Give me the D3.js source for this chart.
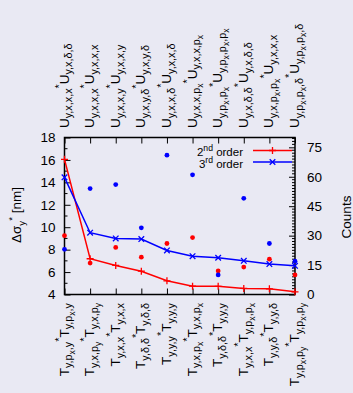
<!DOCTYPE html>
<html>
<head>
<meta charset="utf-8">
<script src="https://cdn.jsdelivr.net/npm/d3@7"></script>
<style>
  html, body { margin: 0; padding: 0; background: #e9e9f3; }
  svg { display: block; font-family: "Liberation Sans", Arial, sans-serif; }
</style>
</head>
<body>
<div id="chart"></div>
<script>
// categories (gnuplot style markup: _ sub, ^ sup)
const topLabels = [
  "U_{y,x,x,x}^*U_{y,x,δ,δ}",
  "U_{y,x,x,x}^*U_{y,x,x,x}",
  "U_{y,x,x,y}^*U_{y,x,x,y}",
  "U_{y,x,y,δ}^*U_{y,x,y,δ}",
  "U_{y,x,x,δ}^*U_{y,x,x,δ}",
  "U_{y,x,x,p_x}^*U_{y,x,x,p_x}",
  "U_{y,p_x,p_x}^*U_{y,p_x,p_x,p_x}",
  "U_{y,x,δ,δ}^*U_{y,x,δ,δ}",
  "U_{y,x,p_x,p_x}^*U_{y,x,x,x}",
  "U_{y,p_x,p_x,δ}^*U_{y,p_x,p_x,δ}"
];
const bottomLabels = [
  "T_{y,p_x,y}^*T_{y,p_x,y}",
  "T_{y,x,p_y}^*T_{y,x,p_y}",
  "T_{y,x,x}^*T_{y,x,x}",
  "T_{y,δ,δ}^*T_{y,δ,δ}",
  "T_{y,y,y}^*T_{y,y,y}",
  "T_{y,x,p_x}^*T_{y,x,p_x}",
  "T_{y,δ,δ}^*T_{y,y,y}",
  "T_{y,x,x}^*T_{y,p_x,p_x}",
  "T_{y,y,δ}^*T_{y,y,δ}",
  "T_{y,p_x,p_y}^*T_{y,p_x,p_y}"
];
// Δσ_y* [nm], left axis
const secondOrder = [16.05, 7.19, 6.59, 6.08, 5.22, 4.74, 4.73, 4.54, 4.51, 4.24];
const thirdOrder  = [14.45, 9.51, 9.0, 8.94, 7.93, 7.42, 7.28, 7.0, 6.71, 6.56];
// counts, right axis
const countsRed  = [30, 16, 24, 19, 26, 29, 12, 14, 18, 10];
const countsBlue = [23, 54, 56, 34, 71, 61, 10, 49, 26, 17];
const yTicks  = [4, 6, 8, 10, 12, 14, 16, 18];
const y2Ticks = [0, 15, 30, 45, 60, 75];

const W = 353, H = 393;
const pL = 64.5, pR = 295, pT = 137.5, pB = 294.5;
const fs = 13.5;

const svg = d3.select("#chart").append("svg")
  .attr("width", W).attr("height", H);
svg.append("rect").attr("width", W).attr("height", H).attr("fill", "#e9e9f3");

const x = d3.scaleLinear().domain([0, 9]).range([pL, pR]);
const y = d3.scaleLinear().domain([4, 18]).range([pB, pT]);
const y2 = d3.scaleLinear().domain([0, 80]).range([pB, pT]);

// parse simple gnuplot enhanced markup into segments
function parse(s, k) {
  const out = [];
  function walk(str, level, shift) {
    let i = 0;
    while (i < str.length) {
      const c = str[i];
      if (c === "_" || c === "^") {
        let arg;
        if (str[i + 1] === "{") {
          let depth = 0, j = i + 1;
          for (; j < str.length; j++) {
            if (str[j] === "{") depth++;
            else if (str[j] === "}") { depth--; if (depth === 0) break; }
          }
          arg = str.slice(i + 2, j);
          i = j + 1;
        } else {
          arg = str[i + 1];
          i += 2;
        }
        const size = Math.pow(k, level);
        const d = c === "_" ? 0.28 * size : -0.42 * size;
        walk(arg, level + 1, shift + d);
      } else {
        out.push({ t: c, level: level, shift: shift });
        i++;
      }
    }
  }
  walk(s, 0, 0);
  const merged = [];
  out.forEach(o => {
    const last = merged[merged.length - 1];
    if (last && last.level === o.level && last.shift === o.shift) last.t += o.t;
    else merged.push({ ...o });
  });
  return merged;
}

function richText(sel, str, size, k) {
  k = k || 0.72;
  let prev = 0;
  parse(str, k).forEach(seg => {
    const dy = (seg.shift - prev) * size;
    prev = seg.shift;
    sel.append("tspan")
      .attr("dy", dy.toFixed(2))
      .attr("font-size", (size * Math.pow(k, seg.level)).toFixed(2) + "px")
      .text(seg.t);
  });
}

// axes
const gL = svg.append("g").attr("transform", `translate(${pL},0)`)
  .call(d3.axisLeft(y).tickValues(yTicks).tickSize(-6).tickPadding(9));
const gR = svg.append("g").attr("transform", `translate(${pR},0)`)
  .call(d3.axisRight(y2).tickValues(y2Ticks).tickSize(-6).tickPadding(12));
const gB = svg.append("g").attr("transform", `translate(0,${pB})`)
  .call(d3.axisBottom(x).ticks(10).tickSize(-6).tickFormat(""));
const gT = svg.append("g").attr("transform", `translate(0,${pT})`)
  .call(d3.axisTop(x).ticks(10).tickSize(-6).tickFormat(""));
[gL, gR, gB, gT].forEach(g => {
  g.select(".domain").remove();
  g.selectAll("line").attr("stroke", "#000").attr("stroke-width", 1);
  g.selectAll("text").attr("font-size", fs + "px").attr("fill", "#000")
    .attr("font-family", "Liberation Sans, Arial, sans-serif");
});

// minor ticks
svg.append("g").selectAll("line")
  .data(d3.range(5, 18, 2))
  .join("line")
  .attr("x1", pL).attr("x2", pL + 3)
  .attr("y1", d => y(d)).attr("y2", d => y(d))
  .attr("stroke", "#000");
svg.append("g").selectAll("line")
  .data(d3.range(0, 80.01, 1.5).filter(v => v % 15 !== 0))
  .join("line")
  .attr("x1", pR).attr("x2", pR - 3)
  .attr("y1", d => y2(d)).attr("y2", d => y2(d))
  .attr("stroke", "#000");

// frame
svg.append("rect")
  .attr("x", pL).attr("y", pT)
  .attr("width", pR - pL).attr("height", pB - pT)
  .attr("fill", "none").attr("stroke", "#000").attr("stroke-width", 1.5);

// dots (counts)
svg.append("g").selectAll("circle")
  .data(countsRed).join("circle")
  .attr("cx", (d, i) => x(i)).attr("cy", d => y2(d)).attr("r", 2.4)
  .attr("fill", "#ff0000");
svg.append("g").selectAll("circle")
  .data(countsBlue).join("circle")
  .attr("cx", (d, i) => x(i)).attr("cy", d => y2(d)).attr("r", 2.4)
  .attr("fill", "#0000ff");

// lines
const line = d3.line().x((d, i) => x(i)).y(d => y(d));
function plus(g, cx, cy, color) {
  g.append("path").attr("d", `M${cx - 3.5},${cy}H${cx + 3.5}M${cx},${cy - 3.5}V${cy + 3.5}`)
    .attr("stroke", color).attr("stroke-width", 1.3);
}
function cross(g, cx, cy, color) {
  g.append("path").attr("d", `M${cx - 2.8},${cy - 2.8}L${cx + 2.8},${cy + 2.8}M${cx - 2.8},${cy + 2.8}L${cx + 2.8},${cy - 2.8}`)
    .attr("stroke", color).attr("stroke-width", 1.3);
}
svg.append("path").datum(secondOrder).attr("d", line)
  .attr("fill", "none").attr("stroke", "#ff0000").attr("stroke-width", 1.5);
svg.append("path").datum(thirdOrder).attr("d", line)
  .attr("fill", "none").attr("stroke", "#0000ff").attr("stroke-width", 1.5);
const gm = svg.append("g");
secondOrder.forEach((d, i) => plus(gm, x(i), y(d), "#ff0000"));
thirdOrder.forEach((d, i) => cross(gm, x(i), y(d), "#0000ff"));

// legend
const legend = [
  { label: "2^{nd} order", color: "#ff0000", mark: plus, ly: 150.5 },
  { label: "3^{rd} order", color: "#0000ff", mark: cross, ly: 162 }
];
legend.forEach(l => {
  const t = svg.append("text").attr("x", 243).attr("y", l.ly + 5.5)
    .attr("text-anchor", "end").attr("font-size", "11.5px").attr("fill", "#000");
  richText(t, l.label, 11.5, 0.75);
  svg.append("line").attr("x1", 253).attr("x2", 292)
    .attr("y1", l.ly).attr("y2", l.ly)
    .attr("stroke", l.color).attr("stroke-width", 1.5);
  l.mark(svg, 272.5, l.ly, l.color);
});

// category labels (rotated)
topLabels.forEach((s, i) => {
  const t = svg.append("text")
    .attr("transform", `translate(${x(i) + 4},128) rotate(-90)`)
    .attr("text-anchor", "start").attr("font-size", fs + "px").attr("fill", "#000");
  richText(t, s, fs, 0.8);
});
bottomLabels.forEach((s, i) => {
  const t = svg.append("text")
    .attr("transform", `translate(${x(i) + 4},303) rotate(-90)`)
    .attr("text-anchor", "end").attr("font-size", fs + "px").attr("fill", "#000");
  richText(t, s, fs, 0.8);
});

// axis titles
const yl = svg.append("text")
  .attr("transform", `translate(21,215) rotate(-90)`)
  .attr("text-anchor", "middle").attr("font-size", fs + "px").attr("fill", "#000");
richText(yl, "Δσ_y^* [nm]", fs);
svg.append("text")
  .attr("transform", `translate(351,217) rotate(-90)`)
  .attr("text-anchor", "middle").attr("font-size", fs + "px").attr("fill", "#000")
  .text("Counts");
</script>
</body>
</html>
